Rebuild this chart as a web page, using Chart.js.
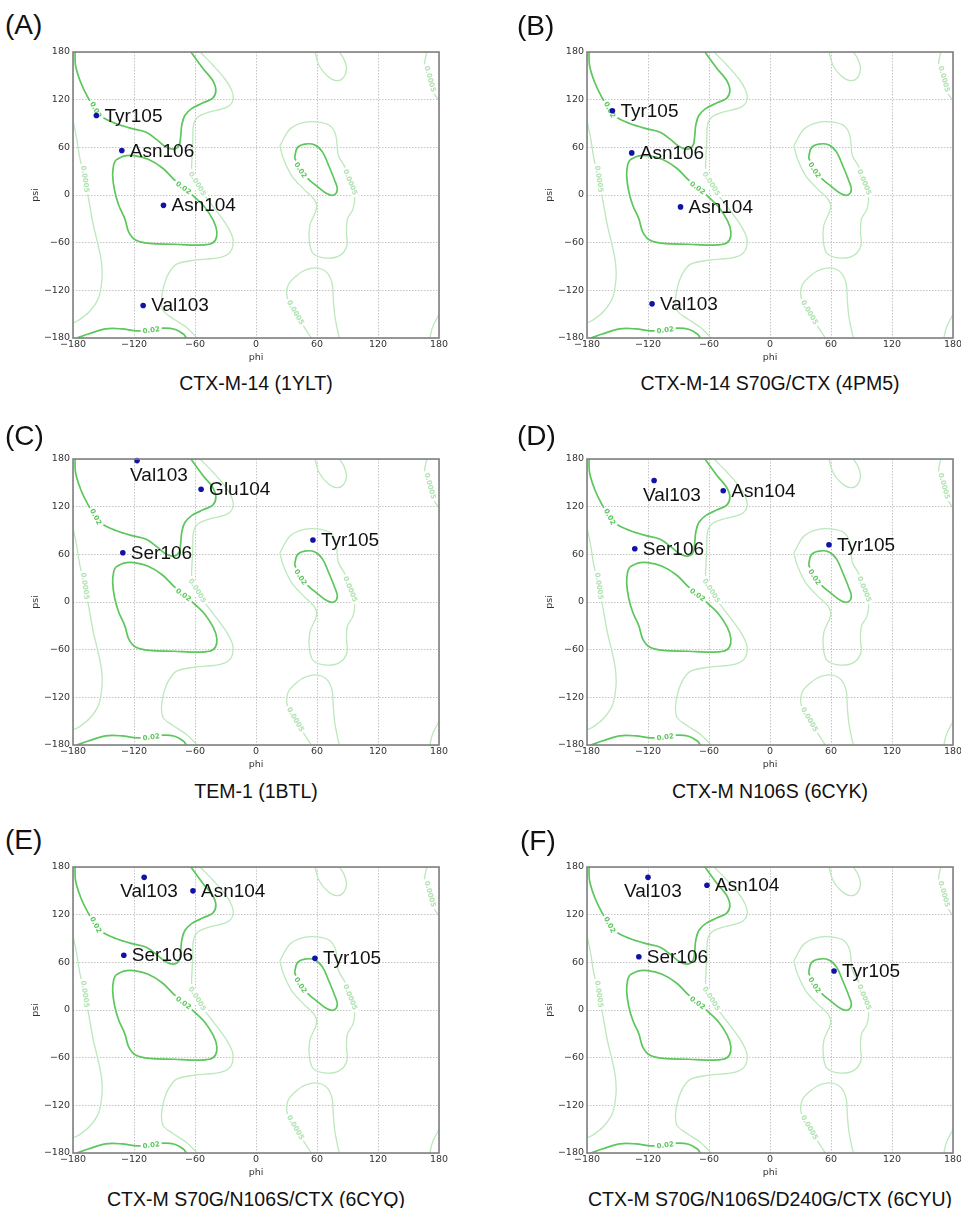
<!DOCTYPE html>
<html>
<head>
<meta charset="utf-8">
<script src="https://cdn.jsdelivr.net/npm/chart.js@4.4.1/dist/chart.umd.min.js"></script>
<style>
  body { margin: 0; background: #fff; width: 961px; height: 1208px; position: relative; overflow: hidden;
         font-family: "Liberation Sans", Arial, sans-serif; color: #111; }
  canvas { position: absolute; }
  .letter { position: absolute; font-size: 28px; line-height: 28px; white-space: nowrap; }
  .title { position: absolute; width: 366px; text-align: center; font-size: 19.5px; line-height: 20px; white-space: nowrap; }
</style>
</head>
<body>
<script>
// ejes (grados)
const tickValues = [-180, -120, -60, 0, 60, 120, 180];

// residuos por panel: nombre, phi, psi
const namesA = ['Tyr105', 'Asn106', 'Asn104', 'Val103'];
const phiA = [-157, -132, -91, -111];
const psiA = [100, 56, -13, -139];

const namesB = ['Tyr105', 'Asn106', 'Asn104', 'Val103'];
const phiB = [-155, -136, -88, -116];
const psiB = [106, 53, -15, -137];

const namesC = ['Val103', 'Glu104', 'Tyr105', 'Ser106'];
const phiC = [-117, -54, 56, -131];
const psiC = [178, 142, 78, 62];

const namesD = ['Val103', 'Asn104', 'Tyr105', 'Ser106'];
const phiD = [-114, -46, 58, -133];
const psiD = [153, 140, 72, 67];

const namesE = ['Val103', 'Asn104', 'Tyr105', 'Ser106'];
const phiE = [-110, -62, 58, -130];
const psiE = [167, 150, 65, 69];

const namesF = ['Val103', 'Asn104', 'Tyr105', 'Ser106'];
const phiF = [-120, -62, 63, -129];
const psiF = [167, 157, 49, 67];

const titles = ['CTX-M-14 (1YLT)', 'CTX-M-14 S70G/CTX (4PM5)', 'TEM-1 (1BTL)',
                'CTX-M N106S (6CYK)', 'CTX-M S70G/N106S/CTX (6CYQ)', 'CTX-M S70G/N106S/D240G/CTX (6CYU)'];
const letters = ['(A)', '(B)', '(C)', '(D)', '(E)', '(F)'];

// contornos de densidad (phi, psi), nivel 0.02
const dark02Beta = [[-178, 180], [-177.5, 163], [-172.5, 142], [-165, 122], [-158, 108], [-151, 98], [-138, 90],
  [-122, 83.5], [-108, 79], [-97, 69], [-88, 60], [-80, 58], [-75.5, 63], [-74, 75], [-73, 88], [-70, 100],
  [-63, 109], [-52, 116], [-42.5, 122], [-39.5, 132], [-43, 145], [-52, 159], [-64, 180]];
const dark02Alpha = [[-138, 44], [-130, 49], [-120, 49.5], [-106, 45], [-92, 34], [-81, 20], [-70, 8], [-61, -2],
  [-50, -16], [-42, -32], [-38.5, -46], [-40, -57], [-46, -62], [-60, -63], [-80, -62], [-105, -61], [-118, -57],
  [-125, -47], [-129, -30], [-135, -13], [-139, 5], [-141, 25], [-140, 38], [-138, 44]];
const dark02LeftAlpha = [[38, 47], [40.5, 59], [48, 64], [58, 63], [65.5, 54], [71.5, 37], [77.5, 18], [80, 7],
  [76.5, 0], [70, 1.5], [61, 10], [51.5, 20], [44, 30], [38, 47]];
const dark02Bottom = [[-176, -180], [-165, -175], [-148, -168.5], [-132, -168.5], [-117, -171], [-102, -170],
  [-91, -167.5], [-80, -169], [-71.5, -175], [-68.5, -180]];

// nivel 0.0005
const light0005Main = [[-55, 180], [-42, 163], [-30.5, 146], [-24, 132], [-22.5, 120], [-28, 111], [-47, 104],
  [-57.5, 98], [-61.5, 88], [-62.2, 67], [-63, 46], [-63, 29], [-58, 12], [-48, -5], [-36, -25], [-27, -42],
  [-22.5, -57], [-25.5, -72], [-35, -78.5], [-60, -82], [-78, -87], [-86, -99], [-91, -116], [-93, -133],
  [-91, -146], [-81, -156], [-68, -167], [-58, -180]];
const light0005Left = [[-180, 94], [-176.5, 72], [-173.5, 48], [-169, 22], [-164.5, -6], [-160, -38], [-155.5, -62],
  [-152, -85], [-151.5, -106], [-155, -130], [-164, -147], [-175, -158], [-180, -161]];
const light0005TopU = [[58, 180], [62, 163], [70, 150], [78.5, 144], [85.5, 147], [89, 159], [86.5, 171], [82, 180]];
const light0005LeftAlpha = [[23.5, 62], [33.5, 83], [46.5, 91], [59.5, 92], [72.5, 87.5], [78.5, 75], [81, 50],
  [87.5, 35], [92.5, 16], [97, -0.5], [95.5, -17.5], [90, -30], [89, -47], [89.5, -63.5], [82.5, -76], [69.5, -79.5],
  [56.5, -74], [52.5, -59], [53, -38], [59.5, -17.5], [58, -7], [46.5, 8], [35, 24.5], [27, 45.5], [23.5, 62]];
const light0005TopRight = [[168, 180], [166, 165], [171, 146], [175.5, 127], [180, 119]];
const light0005Bottom = [[54.5, -180], [46.5, -164.5], [38.5, -148], [31, -131], [31.5, -114], [40, -101.5],
  [49.5, -94], [61, -92], [70, -98], [75, -112], [76, -131], [77.5, -152], [80, -169], [82, -180]];
const light0005BottomRight = [[171, -180], [173.5, -167], [180, -150]];

// etiquetas de los contornos
const contourLabelText = ['0.02', '0.02', '0.02', '0.02', '0.0005', '0.0005', '0.0005', '0.0005', '0.0005'];
const contourLabelPhi = [-158, -71.5, 43.5, -103, -58, -168.5, 92.5, 38.5, 171];
const contourLabelPsi = [107, 8.5, 31, -170.5, 14, 20, 16, -148, 146];
const contourLabelAngle = [62, 35, 58, -8, 58, 82, 68, 60, 75];

const darkGreen = '#5cc75c';
const lightGreen = '#bce8bc';

const contours = [
  { pts: dark02Beta, dark: true }, { pts: dark02Alpha, dark: true },
  { pts: dark02LeftAlpha, dark: true }, { pts: dark02Bottom, dark: true },
  { pts: light0005Main, dark: false }, { pts: light0005Left, dark: false },
  { pts: light0005TopU, dark: false }, { pts: light0005LeftAlpha, dark: false },
  { pts: light0005TopRight, dark: false }, { pts: light0005Bottom, dark: false },
  { pts: light0005BottomRight, dark: false }
];

// posición de cada panel (esquina del área de datos) y desplazamiento de las etiquetas
const R = [8, 6];
const panels = [
  { left: 73, top: 52, names: namesA, phi: phiA, psi: psiA, shift: [R, R, R, R], letter: [5, 11] },
  { left: 587, top: 52, names: namesB, phi: phiB, psi: psiB, shift: [R, R, R, R], letter: [517, 12] },
  { left: 73, top: 459, names: namesC, phi: phiC, psi: psiC, shift: [[-7, 20], R, R, R], letter: [5, 422] },
  { left: 587, top: 459, names: namesD, phi: phiD, psi: psiD, shift: [[-11, 21], R, R, R], letter: [517, 422] },
  { left: 73, top: 867, names: namesE, phi: phiE, psi: psiE, shift: [[-24, 20], R, R, R], letter: [5, 826] },
  { left: 587, top: 867, names: namesF, phi: phiF, psi: psiF, shift: [[-24, 20], R, R, R], letter: [520, 827] }
];
const titleTops = [372.5, 372.5, 781, 781, 1189, 1189];

const PLOT_W = 366, PLOT_H = 286, AXIS_W = 60, AXIS_H = 34, PAD_T = 12, PAD_R = 16;
const tickFont = { family: 'DejaVu Sans', size: 9.5 };
const fmt = v => (v < 0 ? '\u2212' + Math.abs(v) : String(v));

function ramaPlugin(p, residueIndex) {
  return {
    id: 'rama',
    beforeDatasetDraw(chart, args) {
      if (args.index !== residueIndex) return;
      // etiquetas de nivel sobre las curvas
      const ctx = chart.ctx, xs = chart.scales.x, ys = chart.scales.y;
      ctx.save();
      ctx.font = 'bold 7px "DejaVu Sans"';
      ctx.textAlign = 'center';
      ctx.textBaseline = 'middle';
      contourLabelText.forEach((t, i) => {
        const px = xs.getPixelForValue(contourLabelPhi[i]);
        const py = ys.getPixelForValue(contourLabelPsi[i]);
        ctx.save();
        ctx.translate(px, py);
        ctx.rotate(contourLabelAngle[i] * Math.PI / 180);
        const w = ctx.measureText(t).width;
        ctx.fillStyle = '#fff';
        ctx.fillRect(-w / 2 - 2, -4, w + 4, 8);
        ctx.fillStyle = t === '0.02' ? darkGreen : '#b0e2b0';
        ctx.fillText(t, 0, 0);
        ctx.restore();
      });
      ctx.restore();
    },
    afterDatasetsDraw(chart) {
      const ctx = chart.ctx, a = chart.chartArea;
      ctx.save();
      ctx.strokeStyle = '#808080';
      ctx.lineWidth = 1.6;
      ctx.strokeRect(a.left, a.top, a.right - a.left, a.bottom - a.top);
      // nombres de los residuos
      const meta = chart.getDatasetMeta(residueIndex);
      ctx.font = '19px "Liberation Sans"';
      ctx.fillStyle = '#111';
      ctx.textAlign = 'left';
      ctx.textBaseline = 'alphabetic';
      meta.data.forEach((el, i) => {
        ctx.fillText(p.names[i], el.x + p.shift[i][0], el.y + p.shift[i][1]);
      });
      // títulos de los ejes
      ctx.font = '9.5px "DejaVu Sans"';
      ctx.fillStyle = '#333';
      ctx.textAlign = 'center';
      ctx.textBaseline = 'middle';
      ctx.fillText('phi', (a.left + a.right) / 2, a.bottom + 19.5);
      ctx.translate(a.left - 37.5, (a.top + a.bottom) / 2);
      ctx.rotate(-Math.PI / 2);
      ctx.fillText('psi', 0, 0);
      ctx.restore();
    }
  };
}

function crearPanel(p, k) {
  const canvas = document.createElement('canvas');
  canvas.width = AXIS_W + PLOT_W + PAD_R;
  canvas.height = PAD_T + PLOT_H + AXIS_H;
  canvas.style.left = (p.left - AXIS_W) + 'px';
  canvas.style.top = (p.top - PAD_T) + 'px';
  document.body.appendChild(canvas);

  const letter = document.createElement('div');
  letter.className = 'letter';
  letter.textContent = letters[k];
  letter.style.left = p.letter[0] + 'px';
  letter.style.top = p.letter[1] + 'px';
  document.body.appendChild(letter);

  const title = document.createElement('div');
  title.className = 'title';
  title.textContent = titles[k];
  title.style.left = p.left + 'px';
  title.style.top = titleTops[k] + 'px';
  document.body.appendChild(title);

  const datasets = contours.map(c => ({
    data: c.pts.map(([x, y]) => ({ x: x, y: y })),
    showLine: true,
    borderColor: c.dark ? darkGreen : lightGreen,
    borderWidth: c.dark ? 1.7 : 1.3,
    pointRadius: 0,
    tension: 0.35,
    fill: false,
    order: 2
  }));
  datasets.push({
    data: p.phi.map((x, i) => ({ x: x, y: p.psi[i] })),
    backgroundColor: '#1212a8',
    borderColor: '#1212a8',
    borderWidth: 0,
    pointRadius: 2.8,
    clip: false,
    order: 0
  });
  const residueIndex = datasets.length - 1;

  const axis = (fitFn, pad) => ({
    type: 'linear',
    min: -180,
    max: 180,
    afterBuildTicks: s => { s.ticks = tickValues.map(v => ({ value: v })); },
    afterFit: fitFn,
    ticks: { callback: fmt, font: tickFont, color: '#333', padding: pad, autoSkip: false, maxRotation: 0 },
    grid: { color: '#c4c4c4', lineWidth: 1, drawTicks: false },
    border: { display: false, dash: [1.5, 1.5] }
  });

  new Chart(canvas, {
    type: 'scatter',
    data: { datasets: datasets },
    options: {
      responsive: false,
      animation: false,
      events: [],
      layout: { padding: { top: PAD_T, right: PAD_R, left: 0, bottom: 0 } },
      plugins: { legend: { display: false }, tooltip: { enabled: false } },
      scales: {
        x: axis(s => { s.height = AXIS_H; }, 1),
        y: axis(s => { s.width = AXIS_W; }, 3)
      }
    },
    plugins: [ramaPlugin(p, residueIndex)]
  });
}

panels.forEach(crearPanel);
</script>
</body>
</html>
